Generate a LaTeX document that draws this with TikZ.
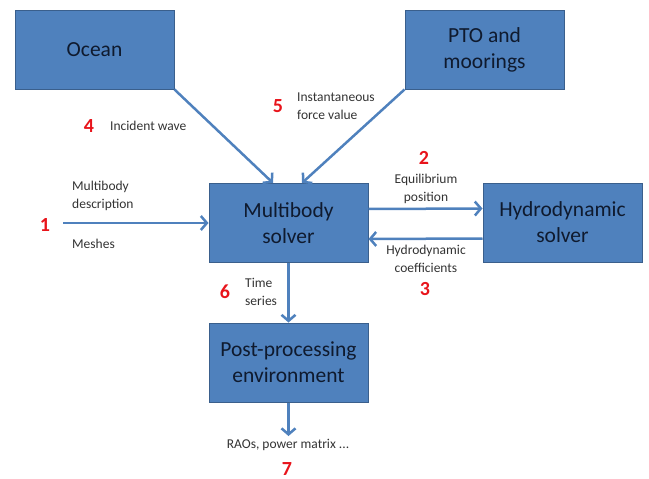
\documentclass[tikz,border=0pt]{standalone}
\usepackage{fontspec}
\setmainfont{Carlito}
\usetikzlibrary{arrows.meta,calc}
\definecolor{boxblue}{HTML}{4F81BD}
\definecolor{boxedge}{HTML}{3A5F8C}
\definecolor{numred}{HTML}{E8141B}
\definecolor{lbl}{HTML}{333333}
\definecolor{boxtext}{HTML}{0F1A2E}
\begin{document}
\begin{tikzpicture}[x=1pt,y=-1pt,
 blockbox/.style={draw=boxedge, line width=1pt, fill=boxblue, minimum width=159pt, minimum height=79pt, align=center, inner sep=0pt, font=\fontsize{21.5}{26}\selectfont, text=boxtext},
 flow/.style={draw=boxblue, line width=2.5pt, -{Straight Barb[length=6pt,width=14pt]}},
 lab/.style={font=\fontsize{13.5}{18.5}\selectfont, text=lbl, align=left, inner sep=0pt},
 num/.style={font=\bfseries\fontsize{20}{22}\selectfont, text=numred, inner sep=0pt}]
\useasboundingbox (0,0) rectangle (649,479);
\node[blockbox] (ocean) at (94.5,49.5) {Ocean};
\node[blockbox] (pto) at (484.5,49.5) {PTO and\\moorings};
\node[blockbox] (mb) at (288.5,223) {Multibody\\solver};
\node[blockbox] (hy) at (562.5,222.5) {Hydrodynamic\\solver};
\node[blockbox] (pp) at (288.5,362.5) {Post-processing\\environment};
\coordinate (in) at (63,223);
\coordinate (out) at (288.5,436);
\draw[flow] (ocean.south east) -- ($(mb.north)+(-15.5,0)$);
\draw[flow] (pto.south west) -- ($(mb.north)+(13.5,0)$);
\draw[flow] (in) -- (mb.west);
\draw[flow] ($(mb.east)+(0,-14)$) -- ($(hy.west)+(0,-14)$);
\draw[flow] ($(hy.west)+(0,16)$) -- ($(mb.east)+(0,16)$);
\draw[flow] (mb.south) -- (pp.north);
\draw[flow] (pp.south) -- (out);
\node[num] (n4) at (89,126) {4};
\node[lab, anchor=west] (l4) at (110,126) {Incident wave};
\node[num] (n5) at (278,106) {5};
\node[lab, anchor=west] (l5) at (297,106) {Instantaneous\\force value};
\node[num] (n1) at (45,225) {1};
\node[lab, anchor=west] (l1a) at (72,196) {Multibody\\description};
\node[lab, anchor=west] (l1b) at (72,244) {Meshes};
\node[num] (n2) at (424,158) {2};
\node[lab, align=center] (l2) at (426,189) {Equilibrium\\position};
\node[lab, align=center] (l3) at (426,259) {Hydrodynamic\\coefficients};
\node[num] (n3) at (425,289) {3};
\node[num] (n6) at (225,292) {6};
\node[lab, anchor=west] (l6) at (245,292) {Time\\series};
\node[lab] (l7) at (288,445) {RAOs, power matrix ...};
\node[num] (n7) at (287,469) {7};
\end{tikzpicture}
\end{document}
